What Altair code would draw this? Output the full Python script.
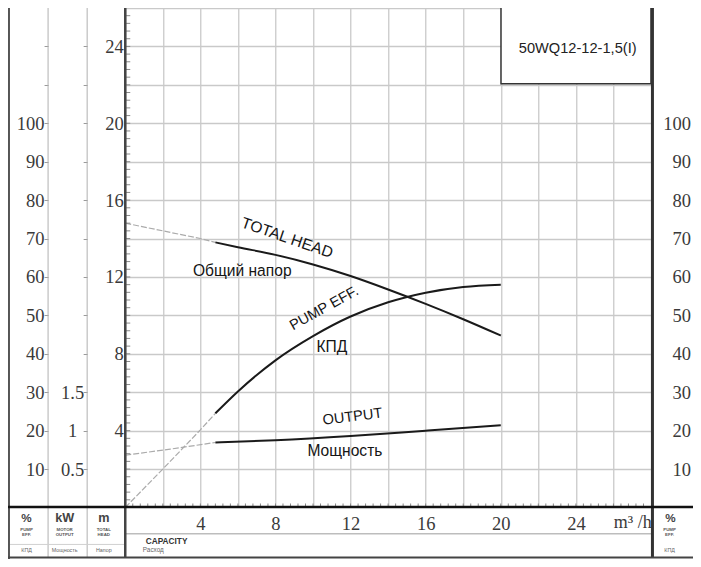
import altair as alt
import pandas as pd
import numpy as np

# ------------------------------------------------------------------ data
# total head (m) vs capacity (m3/h): dotted extension + working range
HEAD_Q_EXT = [0, 2, 4, 4.8]
HEAD_H_EXT = [14.8, 14.4, 14.0, 13.8]
HEAD_Q = [4.8, 6, 8, 10, 12, 14, 16, 18, 20]
HEAD_H = [13.8, 13.55, 13.15, 12.65, 12.05, 11.35, 10.6, 9.8, 8.95]

# pump efficiency (%)
EFF_Q_EXT = [0, 2, 4, 4.8]
EFF_EXT = [0, 10.0, 20.2, 24.5]
EFF_Q = [4.8, 6, 8, 10, 12, 14, 16, 18, 20]
EFF = [24.5, 30.2, 38.3, 44.6, 49.7, 53.4, 55.9, 57.4, 58.0]

# motor output (kW)
OUT_Q_EXT = [0, 2.4, 4.8]
OUT_EXT = [0.68, 0.76, 0.846]
OUT_Q = [4.8, 8, 12, 16, 20]
OUT_KW = [0.846, 0.875, 0.93, 1.0, 1.07]

# axes / ticks
X_GRID = list(range(0, 29, 2))
X_LABELS = [4, 8, 12, 16, 20, 24]
H_GRID = list(range(2, 27, 2))
H_LABELS = [4, 8, 12, 16, 20, 24]
EFF_TICKS = list(range(10, 130, 10))
EFF_LABELS = [10, 20, 30, 40, 50, 60, 70, 80, 90, 100]
KW_TICKS = [0.5, 1.0, 1.5, 2.0, 2.5, 3.0, 3.5, 4.0, 4.5, 5.0, 5.5, 6.0]
KW_LABELS = [0.5, 1, 1.5]
X_MINOR = [round(v, 2) for v in np.arange(0.4, 28, 0.4)]
H_MINOR = [round(v, 2) for v in np.arange(0.4, 26, 0.4)]

# texts
MODEL = "50WQ12-12-1,5(I)"
CURVE_TEXTS = ["TOTAL HEAD", "Общий напор", "PUMP EFF.", "КПД", "OUTPUT", "Мощность"]
UNIT_TEXTS = ["%", "kW", "m"]
SMALL_TOP = [["PUMP", "EFF."], ["MOTOR", "OUTPUT"], ["TOTAL", "HEAD"]]
SMALL_RU = ["КПД", "Мощность", "Напор"]
X_UNIT = "m³ /h"
CAPACITY = ["CAPACITY", "Расход"]

# ------------------------------------------------------------------ layout
SX = 685 / 701
SY = 551 / 567
L = 120 * SX
W = 538 * SX
R = 685 - L - W
PH = 514 * SY
B = 551 - PH
FS = (SX + SY) / 2

def px(xr):
    return xr * SX - L

def py(yr):
    return yr * SY

one = pd.DataFrame({"k": [0]})
SERIF = "Liberation Serif"
SANS = "Liberation Sans"
GRID = "#c9c9c9"
LAB = "#3a3a3a"

xs = alt.Scale(domain=[0, 28], nice=False, zero=False)
X_AXIS = alt.Axis(
    values=X_GRID, grid=True, gridColor=GRID, gridWidth=1.3, domain=False,
    ticks=False, tickSize=0, title=None, labelOverlap=False, labelFlush=False,
    labelExpr=f"indexof({X_LABELS}, datum.value) >= 0 ? datum.label : ''",
    labelFont=SERIF, labelFontSize=19 * FS, labelColor=LAB,
    labelBaseline="middle", labelPadding=16 * SY,
)


def X(field="Q"):
    return alt.X(f"{field}:Q", scale=xs, axis=X_AXIS)


def Yscale(field, dom, axis=None):
    return alt.Y(f"{field}:Q", scale=alt.Scale(domain=dom, nice=False, zero=False), axis=axis)


H_AXIS = alt.Axis(
    orient="left", values=H_GRID, grid=True, gridColor=GRID, gridWidth=1.3,
    domain=False, ticks=False, tickSize=0, title=None, labelOverlap=False,
    labelExpr=f"indexof({H_LABELS}, datum.value) >= 0 ? datum.label : ''",
    labelFont=SERIF, labelFontSize=19 * FS, labelColor=LAB, labelPadding=2,
)
EFF_AXIS_L = alt.Axis(
    orient="left", offset=79 * SX, values=EFF_TICKS, grid=False, domain=False,
    ticks=True, tickSize=4, tickColor="#9a9a9a", tickWidth=1, title=None,
    labelOverlap=False,
    labelExpr=f"indexof({EFF_LABELS}, datum.value) >= 0 ? datum.label : ''",
    labelFont=SERIF, labelFontSize=19 * FS, labelColor=LAB, labelPadding=0,
)
KW_AXIS = alt.Axis(
    orient="left", offset=39 * SX, values=KW_TICKS, grid=False, domain=False,
    ticks=True, tickSize=4, tickColor="#9a9a9a", tickWidth=1, title=None,
    labelOverlap=False,
    labelExpr=f"indexof({KW_LABELS}, datum.value) >= 0 ? '' + datum.value : ''",
    labelFont=SERIF, labelFontSize=19 * FS, labelColor=LAB,
    labelAlign="center", labelPadding=11,
)
EFF_AXIS_R = alt.Axis(
    orient="right", values=EFF_LABELS, grid=False, domain=False, ticks=False,
    tickSize=0, title=None, labelOverlap=False,
    labelFont=SERIF, labelFontSize=19 * FS, labelColor=LAB,
    labelAlign="right", labelPadding=40.5 * SX,
)

EXT = dict(color="#ababab", strokeWidth=1.2, strokeDash=[6, 2])
SOL = dict(color="#1a1a1a", strokeWidth=2, interpolate="monotone")

H_DOM = [0, 26]
E_DOM = [0, 130]
K_DOM = [0, 6.5]

layers = []

# title box (white, covers grid)
layers.append(
    alt.Chart(one).mark_rect(fill="white", stroke="#333", strokeWidth=1.5).encode(
        x=alt.value(px(504.5)), x2=alt.value(W), y=alt.value(-3), y2=alt.value(py(78))
    )
)

# curves
layers.append(alt.Chart(pd.DataFrame({"Q": HEAD_Q_EXT, "H": HEAD_H_EXT})).mark_line(**EXT)
              .encode(x=X(), y=Yscale("H", H_DOM, H_AXIS)))
layers.append(alt.Chart(pd.DataFrame({"Q": HEAD_Q, "H": HEAD_H})).mark_line(**SOL)
              .encode(x=X(), y=Yscale("H", H_DOM)))
layers.append(alt.Chart(pd.DataFrame({"Q": EFF_Q_EXT, "E": EFF_EXT})).mark_line(**EXT)
              .encode(x=X(), y=Yscale("E", E_DOM, EFF_AXIS_L)))
layers.append(alt.Chart(pd.DataFrame({"Q": EFF_Q, "E": EFF})).mark_line(**SOL)
              .encode(x=X(), y=Yscale("E", E_DOM, EFF_AXIS_R)))
layers.append(alt.Chart(pd.DataFrame({"Q": OUT_Q_EXT, "P": OUT_EXT})).mark_line(**EXT)
              .encode(x=X(), y=Yscale("P", K_DOM, KW_AXIS)))
layers.append(alt.Chart(pd.DataFrame({"Q": OUT_Q, "P": OUT_KW})).mark_line(**SOL)
              .encode(x=X(), y=Yscale("P", K_DOM)))

# minor ticks
layers.append(alt.Chart(pd.DataFrame({"Q": X_MINOR})).mark_rule(color="#8a8a8a", strokeWidth=1)
              .encode(x=X(), y=alt.value(PH), y2=alt.value(PH - 4)))
layers.append(alt.Chart(pd.DataFrame({"H": H_MINOR})).mark_rule(color="#8a8a8a", strokeWidth=1)
              .encode(y=Yscale("H", H_DOM), x=alt.value(0), x2=alt.value(5)))


def vrule(xr, y1, y2, color, w):
    return alt.Chart(one).mark_rule(color=color, strokeWidth=w).encode(
        x=alt.value(px(xr)), y=alt.value(py(y1)), y2=alt.value(py(y2)))


def hrule(yr, x1, x2, color, w):
    return alt.Chart(one).mark_rule(color=color, strokeWidth=w).encode(
        y=alt.value(py(yr)), x=alt.value(px(x1)), x2=alt.value(px(x2)))


layers += [
    vrule(41, 0, 566, "#b0b0b0", 1),
    vrule(81, 0, 566, "#b0b0b0", 1),
    hrule(541, 120, 659, "#bdbdbd", 1.5),
    hrule(552, 0, 120, "#d0d0d0", 1),
    vrule(1, 0, 567, "#555", 2),
    vrule(120, 0, 566, "#444", 2.5),
    vrule(659.5, 0, 566, "#333", 3),
    hrule(513.5, 0, 701, "#111", 2.5),
    hrule(565.5, 0, 701, "#444", 2),
]


def curve_label(t, q, h, angle, size):
    return alt.Chart(pd.DataFrame({"Q": [q], "H": [h]})).mark_text(
        text=t, angle=angle, fontSize=size * FS, font=SANS, color="#151515",
        align="center", baseline="middle",
    ).encode(x=X(), y=Yscale("H", H_DOM))


layers += [
    curve_label(CURVE_TEXTS[0], 8.62, 14.04, 19, 16),
    curve_label(CURVE_TEXTS[1], 6.23, 12.32, 0, 16),
    curve_label(CURVE_TEXTS[2], 10.6, 10.35, 331, 15),
    curve_label(CURVE_TEXTS[3], 11.0, 8.38, 0, 16),
    curve_label(CURVE_TEXTS[4], 12.1, 4.7, 353, 15),
    curve_label(CURVE_TEXTS[5], 11.7, 2.93, 0, 16),
]


def ptext(t, xr, yr, size, font=SANS, weight="normal", align="center", color="#333"):
    return alt.Chart(one).mark_text(
        text=t, fontSize=size * FS, font=font, fontWeight=weight, align=align,
        baseline="middle", color=color,
    ).encode(x=alt.value(px(xr)), y=alt.value(py(yr)))


layers.append(ptext(MODEL, 583, 42, 15, color="#222"))
layers.append(ptext(X_UNIT, 620, 530, 18.5, font=SERIF, align="left", color=LAB))

# bottom-left legend cells
for i, cx in enumerate([19, 58, 98]):
    layers.append(ptext(UNIT_TEXTS[i], cx, 525, 13 if i else 12, weight="bold", color="#444"))
    layers.append(ptext(SMALL_TOP[i][0], cx, 537.5, 4.5, weight="bold", color="#555"))
    layers.append(ptext(SMALL_TOP[i][1], cx, 542.5, 4.5, weight="bold", color="#555"))
    layers.append(ptext(SMALL_RU[i], cx, 558, 5.5, color="#666"))
# right cell
layers.append(ptext(UNIT_TEXTS[0], 678, 525, 12, weight="bold", color="#444"))
layers.append(ptext(SMALL_TOP[0][0], 677, 537.5, 4.5, weight="bold", color="#555"))
layers.append(ptext(SMALL_TOP[0][1], 677, 542.5, 4.5, weight="bold", color="#555"))
layers.append(ptext(SMALL_RU[0], 677, 558, 5.5, color="#666"))
# capacity
layers.append(ptext(CAPACITY[0], 141, 549, 8.5, weight="bold", align="left", color="#333"))
layers.append(ptext(CAPACITY[1], 138, 558, 6.5, align="left", color="#666"))

chart = (
    alt.layer(*layers)
    .resolve_scale(y="independent")
    .properties(
        width=W, height=PH,
        padding={"left": L, "right": R, "top": 0, "bottom": B},
        autosize=alt.AutoSizeParams(type="none"),
        background="white",
    )
    .configure_view(stroke=None)
)

chart.save("out.html", embed_options={"renderer": "svg", "actions": False})
